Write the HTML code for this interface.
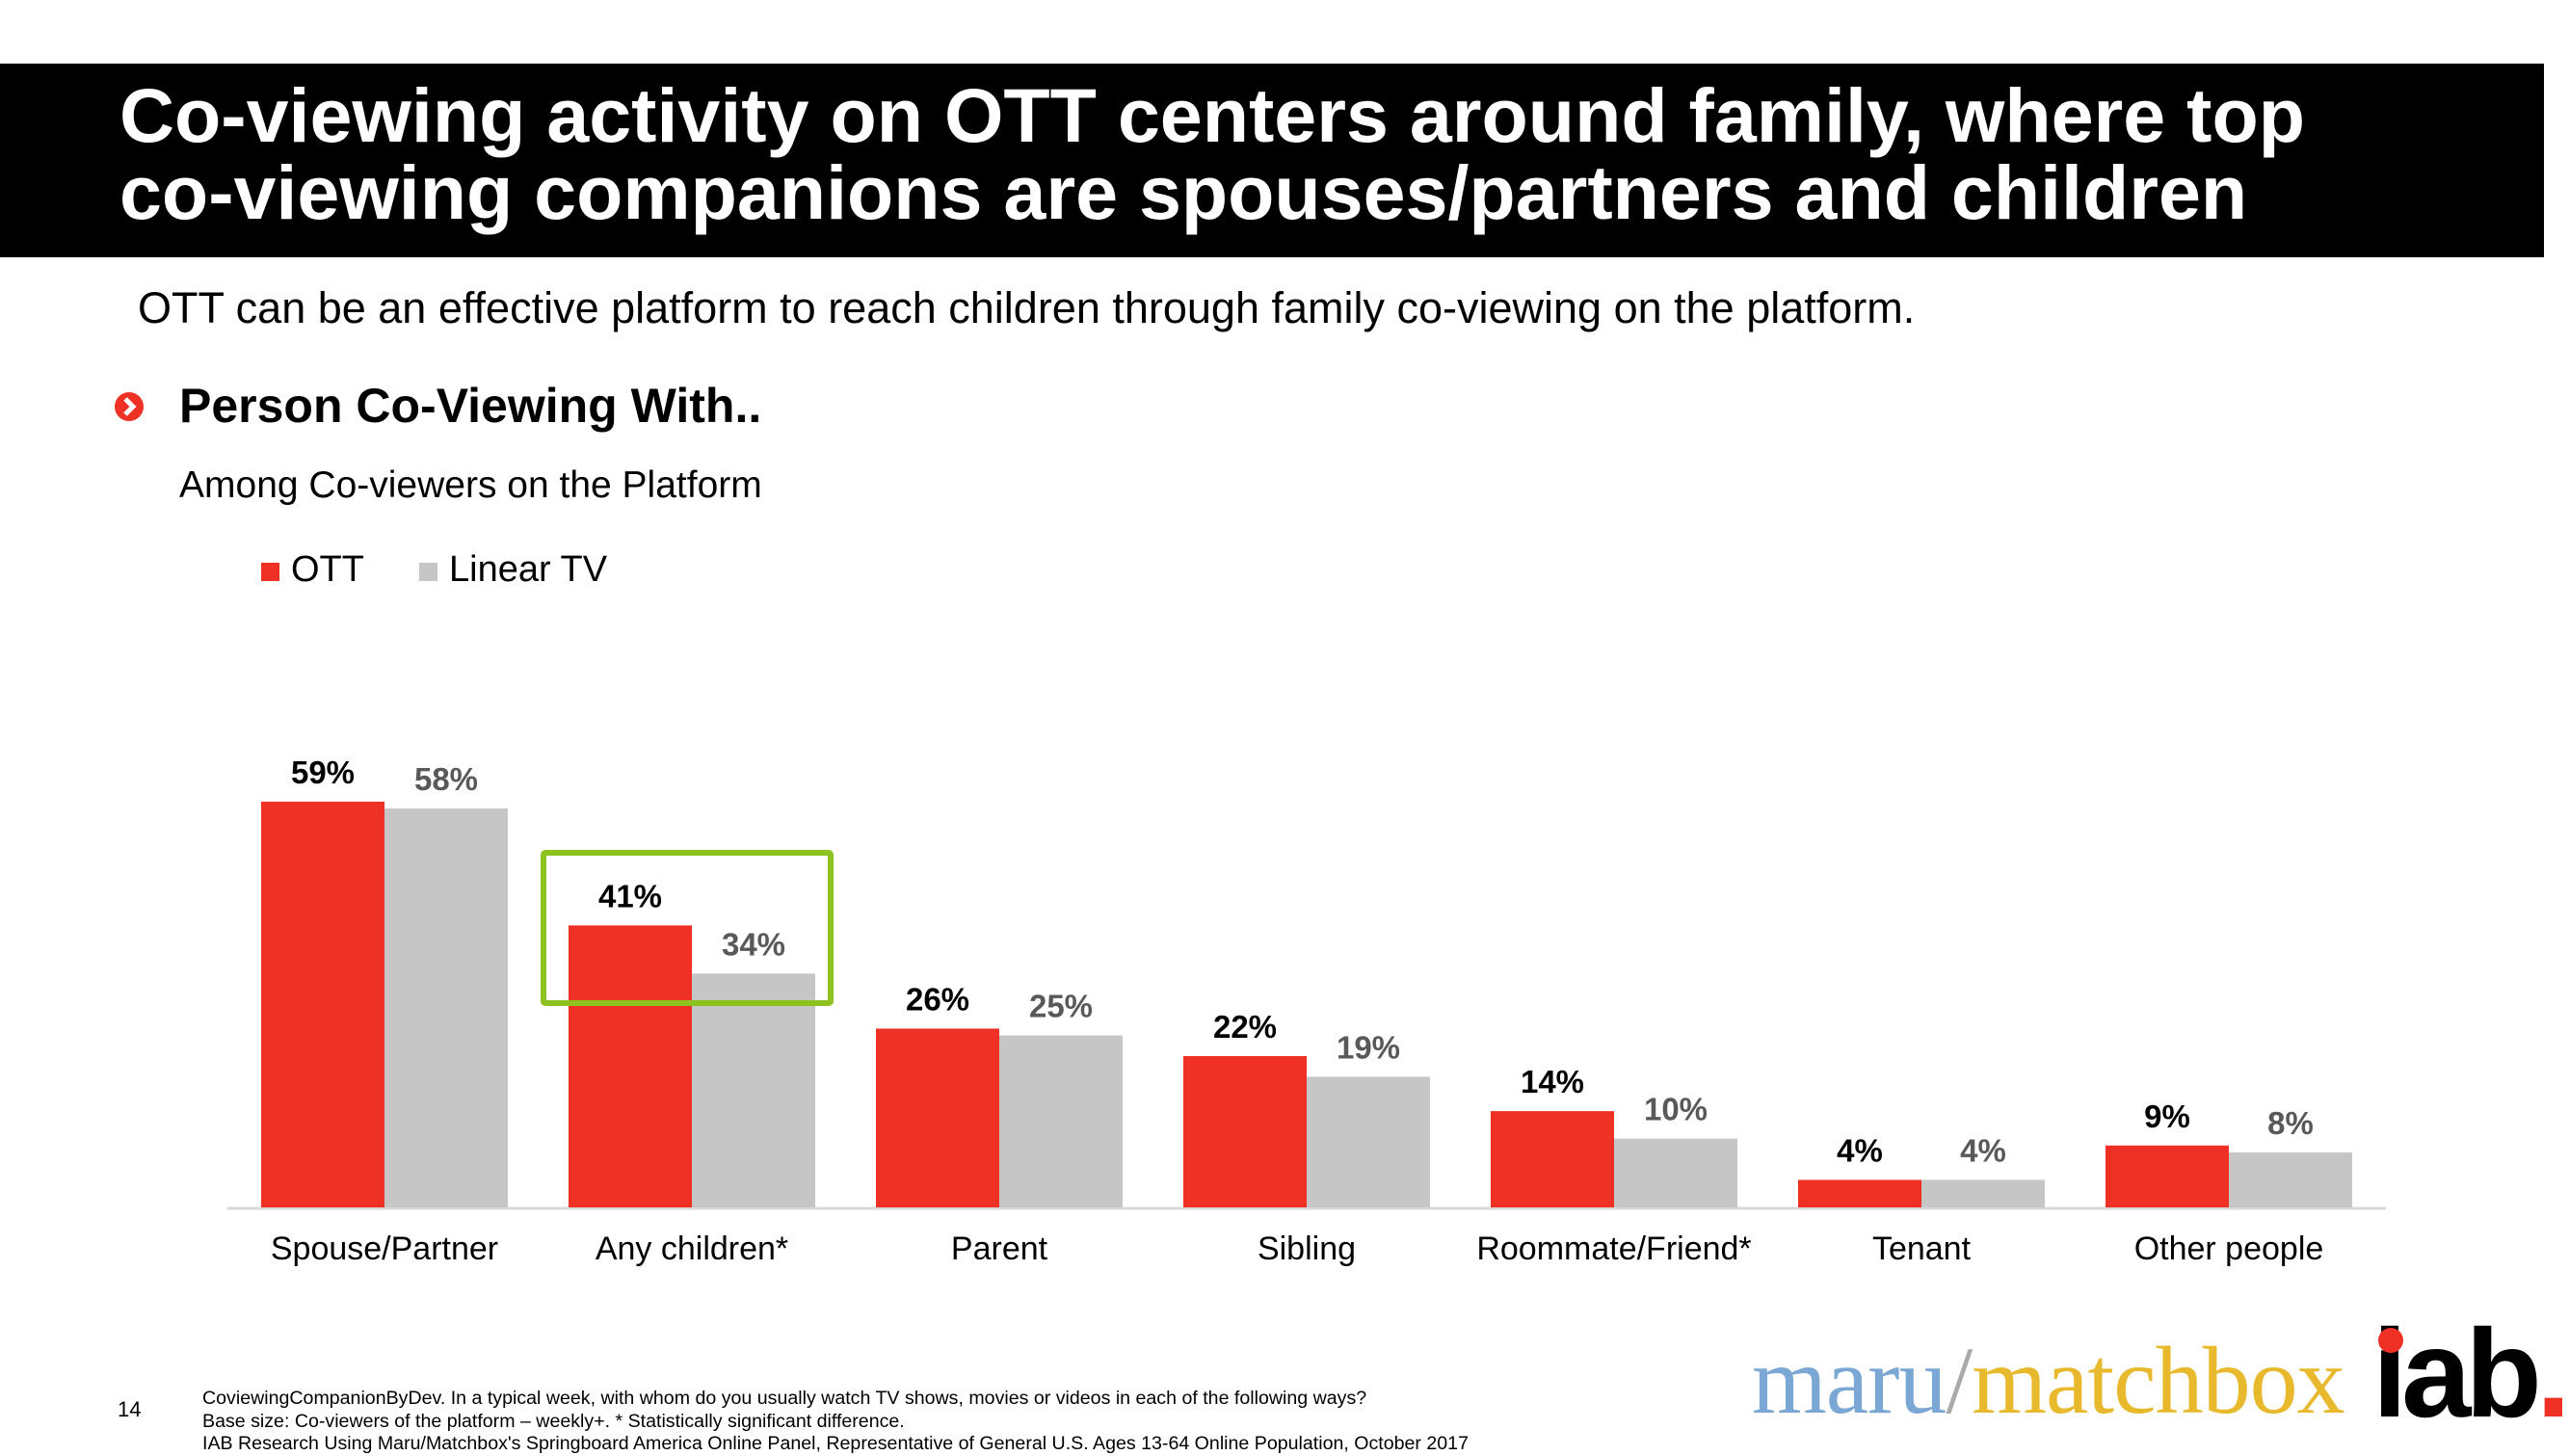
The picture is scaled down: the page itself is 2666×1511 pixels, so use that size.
<!DOCTYPE html>
<html><head><meta charset="utf-8"><style>
body{margin:0;width:2666px;height:1500px;background:#fff;overflow:hidden;font-family:"Liberation Sans",Arial,sans-serif;position:relative}
.abs{position:absolute;white-space:nowrap}
</style></head><body>
<div class="abs" style="left:0;top:66px;width:2640px;height:201px;background:#000"></div>
<div class="abs" style="left:124px;top:80px;color:#fff;font-weight:bold;font-size:79px;line-height:80px">Co-viewing activity on OTT centers around family, where top<br>co-viewing companions are spouses/partners and children</div>
<div class="abs" style="left:143px;top:294px;font-size:45px">OTT can be an effective platform to reach children through family co-viewing on the platform.</div>
<svg class="abs" style="left:118px;top:406px" width="32" height="32" viewBox="0 0 32 32"><circle cx="16" cy="16" r="15" fill="#ee3124"/><path d="M12 8 L20 16 L12 24" stroke="#fff" stroke-width="5" fill="none"/></svg>
<div class="abs" style="left:186px;top:392px;font-size:50px;font-weight:bold">Person Co-Viewing With..</div>
<div class="abs" style="left:186px;top:482px;font-size:39px">Among Co-viewers on the Platform</div>
<div class="abs" style="left:271px;top:570px;font-size:38px"><span style="display:inline-block;width:19px;height:19px;background:#ee3124;margin-right:12px"></span>OTT</div>
<div class="abs" style="left:435px;top:570px;font-size:38px"><span style="display:inline-block;width:19px;height:19px;background:#c6c6c6;margin-right:12px"></span>Linear TV</div>
<svg id="chart" class="abs" style="left:0;top:0" width="2666" height="1400"></svg>
<div class="abs" style="left:122px;top:1450px;font-size:22px">14</div>
<div class="abs" style="left:210px;top:1440px;font-size:19.6px;line-height:23.5px">CoviewingCompanionByDev. In a typical week, with whom do you usually watch TV shows, movies or videos in each of the following ways?<br>Base size: Co-viewers of the platform – weekly+. * Statistically significant difference.<br>IAB Research Using Maru/Matchbox's Springboard America Online Panel, Representative of General U.S. Ages 13-64 Online Population, October 2017</div>
<div class="abs" style="left:1818px;top:1378px;font-family:'Liberation Serif',serif;font-size:100px;line-height:110px;letter-spacing:-1px"><span style="color:#7aa7d3">maru</span><span style="color:#aaa">/</span><span style="color:#e8b92c">matchbox</span></div>
<div class="abs" style="left:2462px;top:1350px;font-size:130px;font-weight:bold;letter-spacing:-6px;color:#000">iab<span style="color:#ee3124">.</span></div>
<div class="abs" style="left:2468px;top:1378px;width:26px;height:26px;border-radius:50%;background:#ee3124"></div>
<script>
const categories=["Spouse/Partner","Any children*","Parent","Sibling","Roommate/Friend*","Tenant","Other people"];
const ottValues=[59,41,26,22,14,4,9];
const linearValues=[58,34,25,19,10,4,8];
const svg=document.getElementById('chart');
const NS='http://www.w3.org/2000/svg';
const baseY=1253, pxPer=7.137, x0=271, step=319, bw=128;
function y(v){return baseY-v*pxPer;}
function gx(i){return x0+i*step;}
function mk(t,a){const e=document.createElementNS(NS,t);for(const k in a)e.setAttribute(k,a[k]);svg.appendChild(e);return e;}
const ax=mk('line',{x1:236,x2:2476,y1:baseY+1,y2:baseY+1,stroke:'#d9d9d9','stroke-width':3});


categories.forEach((c,i)=>{
  const r=mk('rect',{x:gx(i),y:y(ottValues[i]),width:bw,height:ottValues[i]*pxPer,fill:'#ee3124'});
  
  
  const g=mk('rect',{x:gx(i)+bw,y:y(linearValues[i]),width:bw,height:linearValues[i]*pxPer,fill:'#c6c6c6'});
  
  
  const t1=mk('text',{x:gx(i)+bw/2,y:y(ottValues[i])-19,'text-anchor':'middle','font-size':33,'font-weight':'bold',fill:'#000','font-family':'Liberation Sans'});
  t1.textContent=ottValues[i]+'%';
  
  
  const t2=mk('text',{x:gx(i)+bw*1.5,y:y(linearValues[i])-19,'text-anchor':'middle','font-size':33,'font-weight':'bold',fill:'#595959','font-family':'Liberation Sans'});
  t2.textContent=linearValues[i]+'%';
  
  
  const cl=mk('text',{x:gx(i)+bw,y:1307,'text-anchor':'middle','font-size':34,fill:'#000','font-family':'Liberation Sans'});
  cl.textContent=c;
  
  
});
const hb=mk('rect',{x:564,y:885,width:298,height:156,fill:'none',stroke:'#8dc21f','stroke-width':6,rx:2});


</script>
</body></html>
